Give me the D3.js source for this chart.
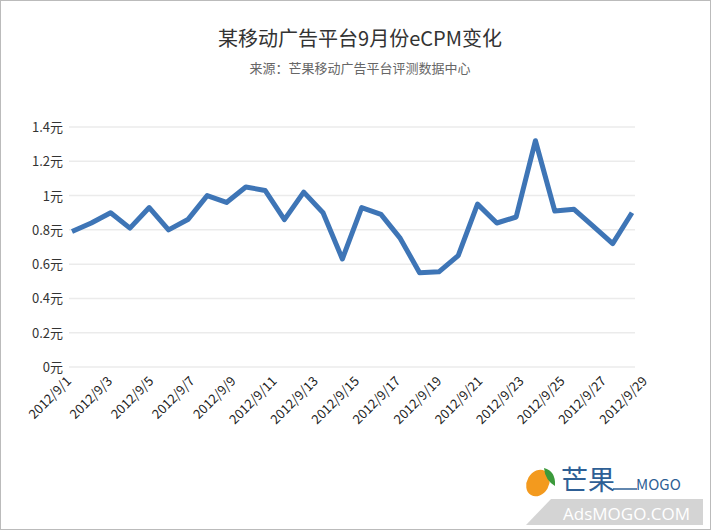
<!DOCTYPE html>
<html><head><meta charset="utf-8">
<script src="https://cdn.jsdelivr.net/npm/d3@7"></script>
<style>body{margin:0;background:#fff;font-family:"Noto Sans CJK SC","Noto Sans",sans-serif;}</style>
</head><body>
<svg id="c" width="711" height="530"></svg>
<script>
const dates = d3.range(1,31).map(d=>"2012/9/"+d);
const values = [0.79,0.84,0.90,0.81,0.93,0.80,0.86,1.00,0.96,1.05,1.03,0.86,1.02,0.90,0.63,
                0.93,0.89,0.75,0.55,0.555,0.65,0.95,0.84,0.875,1.32,0.91,0.92,0.82,0.72,0.90];
const labelDates = d3.range(1,30,2).map(d=>"2012/9/"+d);
const yTicks = [0,0.2,0.4,0.6,0.8,1,1.2,1.4];
const title = "某移动广告平台9月份eCPM变化";
const subtitle = "来源：芒果移动广告平台评测数据中心";

const svg = d3.select("#c");
svg.append("rect").attr("x",0.5).attr("y",0.5).attr("width",710).attr("height",529).attr("fill","#fff").attr("stroke","#bbb");
svg.append("text").attr("x",360).attr("y",46).attr("text-anchor","middle").attr("font-size",20).attr("fill","#333").text(title);
svg.append("text").attr("x",360).attr("y",73).attr("text-anchor","middle").attr("font-size",13).attr("fill","#666").text(subtitle);

const x = d3.scalePoint().domain(dates).range([72,632]);
const xLab = d3.scalePoint().domain(d3.range(1,30).map(d=>"2012/9/"+d)).range([72,648]);
const y = d3.scaleLinear().domain([0,1.4]).range([367,127]);

const g = svg.append("g");
g.selectAll("line.grid").data(yTicks).join("line").attr("class","grid")
 .attr("x1",69).attr("x2",635).attr("y1",d=>y(d)).attr("y2",d=>y(d))
 .attr("stroke","#ebebeb").attr("stroke-width",1.5);
g.selectAll("text.yl").data(yTicks).join("text").attr("class","yl")
 .attr("x",63).attr("y",d=>y(d)+5).attr("text-anchor","end").attr("font-size",13).attr("fill","#333")
 .text(d=>d+"元");

g.selectAll("text.xl").data(labelDates).join("text").attr("class","xl")
 .attr("transform",d=>`translate(${xLab(d)},${382}) rotate(-45)`)
 .attr("text-anchor","end").attr("font-size",13).attr("fill","#222").text(d=>d);

g.append("path").datum(values)
 .attr("d",d3.line().x((d,i)=>x(dates[i])).y(d=>y(d)))
 .attr("fill","none").attr("stroke","#3e75b6").attr("stroke-width",5).attr("stroke-linejoin","round");

// logo
const L = svg.append("g");
L.append("path").attr("d","M551,499 L703,499 L703,525 L526,525 Z").attr("fill","#d4d4d4");
L.append("text").attr("x",563).attr("y",520).attr("font-size",17).attr("fill","#fff").attr("font-family","Open Sans").text("AdsMOGO.COM");
L.append("ellipse").attr("cx",538).attr("cy",483).attr("rx",11).attr("ry",14).attr("transform","rotate(30,538,483)").attr("fill","#f39a1e");
L.append("path").attr("d","M544,468 Q556,471 555,486 Q545,480 544,468Z").attr("fill","#3b9a3b");
L.append("text").attr("x",561).attr("y",490).attr("font-size",27).attr("fill","#2e5f95").text("芒果");
L.append("line").attr("x1",613).attr("x2",637).attr("y1",489).attr("y2",489).attr("stroke","#2e5f95").attr("stroke-width",1.5);
L.append("text").attr("x",636).attr("y",490).attr("font-size",15).attr("fill","#2e5f95").text("MOGO");
</script>
</body></html>
